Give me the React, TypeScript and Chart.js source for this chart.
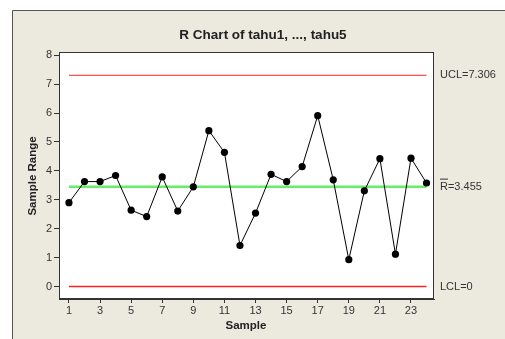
import React, { useEffect, useRef } from "react";
import { Chart, registerables } from "chart.js";

Chart.register(...registerables);

// Subgroup ranges for samples 1..24
const samples: number[] = [1, 2, 3, 4, 5, 6, 7, 8, 9, 10, 11, 12, 13, 14, 15, 16, 17, 18, 19, 20, 21, 22, 23, 24];
const ranges: number[] = [2.9, 3.63, 3.63, 3.84, 2.64, 2.42, 3.79, 2.61, 3.45, 5.39, 4.64, 1.42, 2.54, 3.88, 3.63, 4.15, 5.91, 3.69, 0.93, 3.31, 4.42, 1.12, 4.44, 3.58];

// Control limits
const UCL = 7.306;
const RBAR = 3.455;
const LCL = 0;

const xTicks: number[] = [1, 3, 5, 7, 9, 11, 13, 15, 17, 19, 21, 23];
const yTicks: number[] = [0, 1, 2, 3, 4, 5, 6, 7, 8];

const chartTitle = "R Chart of tahu1, ..., tahu5";
const xTitle = "Sample";
const yTitle = "Sample Range";

const FONT = "'Liberation Sans', Arial, sans-serif";

const framePlugin = {
  id: "minitabFrame",
  beforeDraw(chart: any) {
    const { ctx, chartArea, width, height } = chart;
    ctx.save();
    ctx.fillStyle = "#ffffff";
    ctx.fillRect(0, 0, width, height);
    ctx.fillStyle = "#ECE9DF";
    ctx.fillRect(12, 10, width - 12, height - 10);
    ctx.strokeStyle = "#555555";
    ctx.lineWidth = 1;
    ctx.beginPath();
    ctx.moveTo(12.5, height + 1);
    ctx.lineTo(12.5, 10.5);
    ctx.lineTo(width + 1, 10.5);
    ctx.stroke();
    ctx.fillStyle = "#ffffff";
    ctx.fillRect(chartArea.left, chartArea.top, chartArea.right - chartArea.left, chartArea.bottom - chartArea.top);
    ctx.restore();
  },
  afterDraw(chart: any) {
    const { ctx, chartArea, scales } = chart;
    const y = scales.y;
    ctx.save();
    // plot box
    ctx.strokeStyle = "#333333";
    ctx.lineWidth = 1;
    ctx.strokeRect(chartArea.left + 0.5, chartArea.top + 0.5, chartArea.right - chartArea.left - 1, chartArea.bottom - chartArea.top - 1);

    // title
    ctx.fillStyle = "#222222";
    ctx.font = `bold 13.5px ${FONT}`;
    ctx.textAlign = "center";
    ctx.textBaseline = "middle";
    ctx.fillText(chartTitle, 263, 35);

    // axis titles
    ctx.font = `bold 11.5px ${FONT}`;
    ctx.fillText(xTitle, 246, 326);
    ctx.save();
    ctx.translate(33, 176);
    ctx.rotate(-Math.PI / 2);
    ctx.fillText(yTitle, 0, 0);
    ctx.restore();

    // control limit labels
    ctx.font = `11px ${FONT}`;
    ctx.textAlign = "left";
    ctx.fillStyle = "#333333";
    const lx = chartArea.right + 6;
    ctx.fillText(`UCL=${UCL.toFixed(3)}`, lx, y.getPixelForValue(UCL));
    const ry = y.getPixelForValue(RBAR);
    ctx.fillText(`R=${RBAR.toFixed(3)}`, lx, ry);
    const rw = ctx.measureText("R").width;
    ctx.strokeStyle = "#333333";
    ctx.beginPath();
    ctx.moveTo(lx, ry - 7.5);
    ctx.lineTo(lx + rw, ry - 7.5);
    ctx.stroke();
    ctx.fillText(`LCL=${LCL}`, lx, y.getPixelForValue(LCL));
    ctx.restore();
  },
};

function limitLine(value: number, color: string, width: number) {
  return {
    type: "line" as const,
    data: [
      { x: samples[0], y: value },
      { x: samples[samples.length - 1], y: value },
    ],
    borderColor: color,
    borderWidth: width,
    pointRadius: 0,
    fill: false,
    order: 2,
  };
}

export default function App() {
  const canvasRef = useRef<HTMLCanvasElement | null>(null);

  useEffect(() => {
    document.body.style.margin = "0";
    const canvas = canvasRef.current;
    if (!canvas) return;
    const chart = new Chart(canvas, {
      type: "line",
      data: {
        datasets: [
          limitLine(UCL, "#FF2020", 1),
          limitLine(RBAR, "#66EE66", 2.5),
          limitLine(LCL, "#FF2020", 1.5),
          {
            type: "line",
            data: samples.map((s, i) => ({ x: s, y: ranges[i] })),
            borderColor: "#000000",
            borderWidth: 1,
            pointRadius: 3.6,
            pointBackgroundColor: "#000000",
            pointBorderColor: "#000000",
            pointBorderWidth: 0,
            fill: false,
            tension: 0,
            order: 1,
          },
        ],
      },
      options: {
        animation: false,
        responsive: false,
        devicePixelRatio: 1,
        layout: { padding: { left: 0, right: 71, top: 52, bottom: 0 } },
        plugins: {
          legend: { display: false },
          tooltip: { enabled: false },
          title: { display: false },
        },
        scales: {
          x: {
            type: "linear",
            min: 0.36,
            max: 24.48,
            afterBuildTicks: (scale: any) => {
              scale.ticks = xTicks.map((v) => ({ value: v }));
            },
            afterFit: (scale: any) => {
              scale.height = 40;
            },
            grid: { display: true, drawOnChartArea: false, drawTicks: true, tickLength: 4, color: "#333333" },
            border: { display: true, color: "#333333" },
            ticks: { color: "#333333", font: { family: FONT, size: 11 }, padding: 1, maxRotation: 0, autoSkip: false },
          },
          y: {
            type: "linear",
            min: -0.43,
            max: 8.11,
            afterBuildTicks: (scale: any) => {
              scale.ticks = yTicks.map((v) => ({ value: v }));
            },
            afterFit: (scale: any) => {
              scale.width = 59;
            },
            grid: { display: true, drawOnChartArea: false, drawTicks: true, tickLength: 5, color: "#333333" },
            border: { display: true, color: "#333333" },
            ticks: { color: "#333333", font: { family: FONT, size: 11 }, padding: 2, autoSkip: false },
          },
        },
      },
      plugins: [framePlugin],
    });
    return () => chart.destroy();
  }, []);

  return (
    <div style={{ width: 505, height: 339 }}>
      <canvas ref={canvasRef} width={505} height={339} style={{ display: "block", width: 505, height: 339 }} />
    </div>
  );
}
